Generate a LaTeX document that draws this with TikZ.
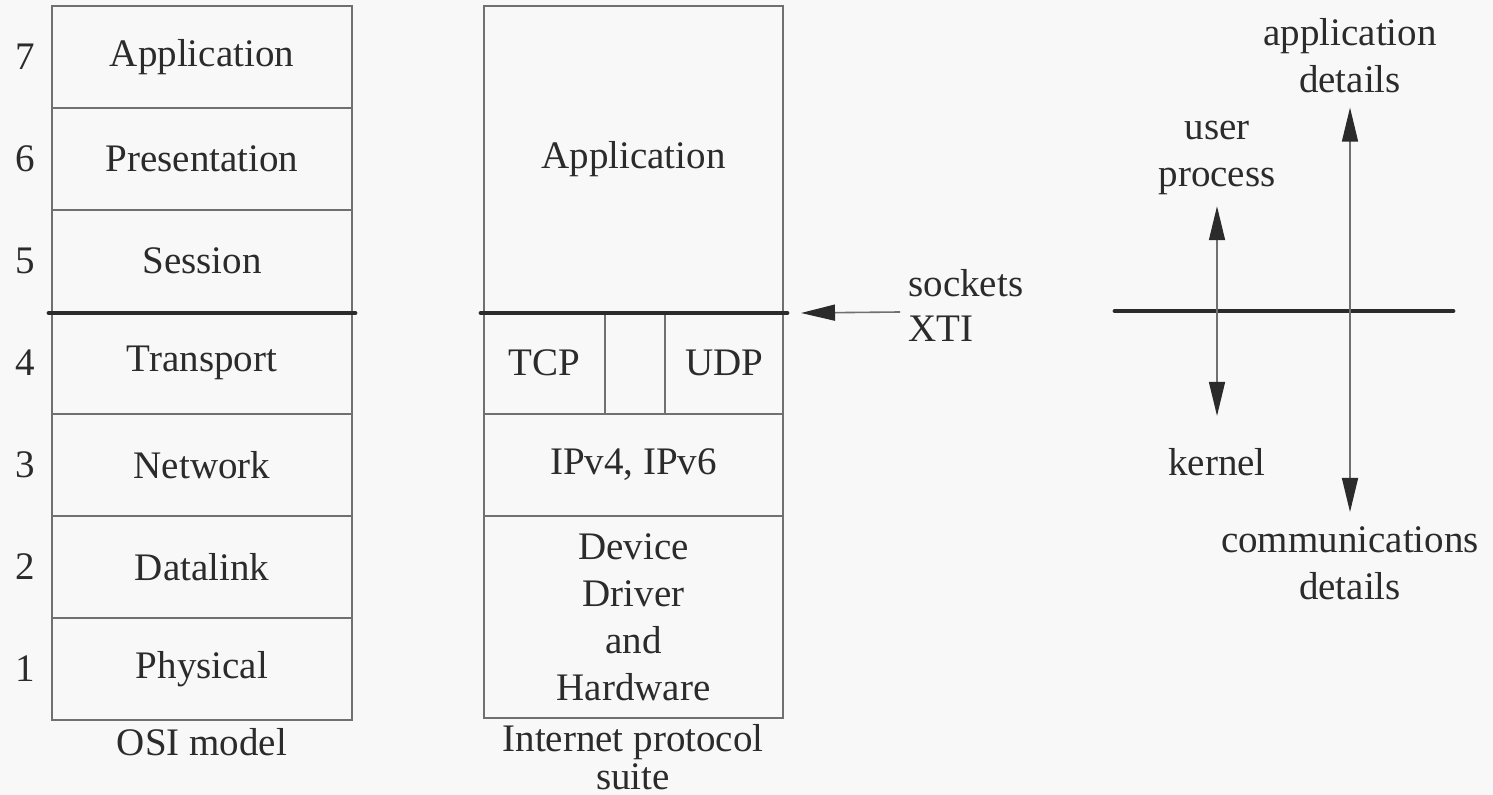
\documentclass[tikz,border=0pt]{standalone}
\usepackage{fontspec}
\setmainfont{Liberation Serif}
\usetikzlibrary{arrows.meta}
\definecolor{ink}{HTML}{2B2B2B}
\definecolor{rulec}{HTML}{707070}
\definecolor{paper}{HTML}{F8F8F8}
\begin{document}
\begin{tikzpicture}[x=0.5pt,y=-0.5pt,
  every node/.style={font=\fontsize{19.5}{23.5}\selectfont, text=ink},
  layer/.style={draw=rulec, line width=1pt, inner sep=0pt, align=center},
  thickrule/.style={draw=ink, line width=2.4pt, line cap=round},
  tip/.style={},
  arr/.style={draw=rulec, line width=0.8pt, -{Triangle[length=17pt,width=8pt,color=ink,fill=ink]}},
  dbl/.style={draw=rulec, line width=0.8pt, {Triangle[length=17pt,width=8pt,color=ink,fill=ink]}-{Triangle[length=17pt,width=8pt,color=ink,fill=ink]}},
  lbl/.style={align=center, inner sep=0pt}]
\fill[paper] (0,0) rectangle (1493,795);
\useasboundingbox (0,0) rectangle (1493,795);

% OSI model
\tikzset{osi/.style={layer, minimum width=150pt, minimum height=51pt}}
\node[osi] (o7) at (202,57)  {Application};
\node[osi] (o6) at (202,159) {Presentation};
\node[osi] (o5) at (202,261) {Session};
\node[osi] (o4) at (202,363) {Transport};
\node[osi] (o3) at (202,465) {Network};
\node[osi] (o2) at (202,567) {Datalink};
\node[osi] (o1) at (202,669) {Physical};
\node[lbl] (n7) at (25,57)  {7};
\node[lbl] (n6) at (25,159) {6};
\node[lbl] (n5) at (25,261) {5};
\node[lbl] (n4) at (25,363) {4};
\node[lbl] (n3) at (25,465) {3};
\node[lbl] (n2) at (25,567) {2};
\node[lbl] (n1) at (25,669) {1};
\node[lbl] (osilbl) at (202,742) {OSI model};
\draw[thickrule] ([xshift=-1pt]o5.south west) -- ([xshift=1pt]o5.south east);

% Internet protocol suite
\node[layer, minimum width=149.5pt, minimum height=153pt] (iapp) at (633.5,159) {Application};
\node[layer, minimum width=60.5pt, minimum height=51pt] (tcp) at (544.5,363) {TCP};
\node[layer, minimum width=30pt, minimum height=51pt] (mid) at (635,363) {};
\node[layer, minimum width=59pt, minimum height=51pt] (udp) at (724,363) {UDP};
\node[layer, minimum width=149.5pt, minimum height=51pt] (ip) at (633.5,465) {IPv4, IPv6};
\node[layer, minimum width=149.5pt, minimum height=101pt] (dev) at (633.5,617) {Device\\Driver\\and\\Hardware};
\node[lbl, font=\fontsize{19.5}{19}\selectfont] (inetlbl) at (633,757) {Internet protocol\\suite};
\draw[thickrule] ([xshift=-1pt]iapp.south west) -- ([xshift=1.5pt]iapp.south east);

% sockets / XTI
\node[anchor=base west, inner sep=0pt] (sockets) at (908,297) {sockets};
\node[anchor=base west, inner sep=0pt] (xti) at (908,342) {XTI};
\coordinate (socktail) at (900,312);
\draw[arr] (socktail) -- ([xshift=8.5pt]iapp.south east);

% right side
\coordinate (kl) at (1115,311);
\coordinate (kr) at (1453,311);
\draw[thickrule] (kl) -- (kr);
\node[lbl] (user) at (1217,158) {user\\process};
\node[lbl] (kernel) at (1217,462) {kernel};
\draw[dbl] ([yshift=-5.5pt]user.south) -- ([yshift=16pt]kernel.north);
\node[lbl] (appd) at (1350,56) {application\\details};
\node[lbl] (comd) at (1350,563) {communications\\details};
\draw[dbl] ([yshift=-7pt]appd.south) -- ([yshift=7pt]comd.north);
\end{tikzpicture}
\end{document}
